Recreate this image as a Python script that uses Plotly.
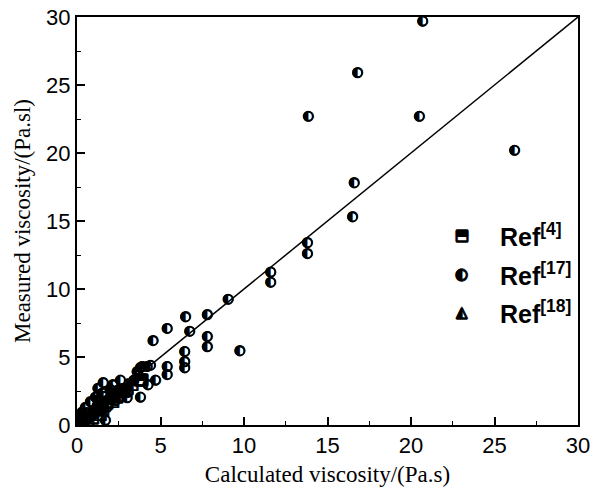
import plotly.graph_objects as go

# Ref[4] (half-filled squares)
ref4_x = [0.35, 0.65, 0.95, 1.4, 1.55, 1.8, 2.15, 2.4, 2.75, 3.0, 3.3, 3.8, 3.9]
ref4_y = [0.15, 0.25, 0.5, 0.75, 1.1, 1.6, 1.7, 2.05, 2.45, 2.6, 2.95, 3.3, 3.3]

# Ref[17] (half-filled circles)
ref17_x = [20.7, 16.8, 13.85, 20.5, 26.2, 16.6, 16.5, 13.8, 13.8, 11.6, 11.6, 9.05,
           7.8, 6.5, 6.75, 5.4, 4.55, 7.8, 7.8, 9.75, 6.45, 6.45, 6.45, 5.4, 5.4,
           4.2, 3.8, 4.7, 3.8, 1.57, 2.6, 2.15, 1.7, 3.9, 4.4, 1.25, 1.5, 1.1, 0.8,
           0.5, 0.3, 0.1, 2.15, 2.6, 3.0, 3.05, 4.25, 1.8, 2.3, 1.2, 0.6,
           1.3, 1.6, 2.0, 1.9, 2.5, 2.9, 3.4, 3.6]
ref17_y = [29.7, 25.9, 22.7, 22.7, 20.2, 17.8, 15.3, 13.4, 12.6, 11.25, 10.5, 9.25,
           8.1, 7.95, 6.9, 7.1, 6.2, 6.5, 5.75, 5.45, 5.4, 4.65, 4.2, 4.3, 3.7,
           4.3, 4.2, 3.3, 2.05, 3.1, 3.3, 2.95, 0.35, 4.3, 4.4, 2.7, 2.35, 2.05, 1.7,
           1.3, 0.95, 0.6, 2.35, 2.05, 2.0, 2.4, 2.95, 1.3, 1.8, 1.4, 0.9,
           1.9, 2.1, 2.6, 1.9, 2.6, 2.5, 3.3, 3.9]

# Ref[18] (half-filled triangles)
ref18_x = [0.1, 0.2, 0.3, 0.4, 0.5, 0.6, 0.8, 1.0, 1.2, 1.4]
ref18_y = [0.15, 0.3, 0.35, 0.5, 0.6, 0.75, 0.85, 1.1, 1.3, 1.45]

# Parity line
line_x = [0, 30]
line_y = [0, 30]

tick_vals = [0, 5, 10, 15, 20, 25, 30]

series_names = ["Ref<sup>[4]</sup>", "Ref<sup>[17]</sup>", "Ref<sup>[18]</sup>"]
series_glyphs = ["\u2B12", "\u25D0", "\u25ED"]

GLYPH_FONT = "DejaVu Sans"
THICK = "0.8px 0 0 black, -0.8px 0 0 black, 0 0.8px 0 black, 0 -0.8px 0 black"

fig = go.Figure()
fig.add_trace(go.Scatter(x=line_x, y=line_y, mode="lines",
                         line=dict(color="black", width=1.5), showlegend=False,
                         hoverinfo="skip"))
# Ref[4]
fig.add_trace(go.Scatter(
    x=ref4_x, y=ref4_y, mode="text", text=[series_glyphs[0]] * len(ref4_x),
    name=series_names[0], textposition="middle center",
    textfont=dict(family=GLYPH_FONT, size=15, color="black", shadow=THICK),
    showlegend=False))
# Ref[17]: thick black ring + left-half-black circle glyph inside
fig.add_trace(go.Scatter(
    x=ref17_x, y=ref17_y, mode="markers", name=series_names[1],
    marker=dict(symbol="circle-open", size=9, color="black", line=dict(width=2, color="black")),
    showlegend=False, hoverinfo="skip"))
fig.add_trace(go.Scatter(
    x=ref17_x, y=ref17_y, mode="text", text=[series_glyphs[1]] * len(ref17_x),
    name=series_names[1], textposition="middle center",
    textfont=dict(family=GLYPH_FONT, size=14, color="black"), showlegend=False))
# Ref[18]
fig.add_trace(go.Scatter(
    x=ref18_x, y=ref18_y, mode="text", text=[series_glyphs[2]] * len(ref18_x),
    name=series_names[2], textposition="middle center",
    textfont=dict(family=GLYPH_FONT, size=15, color="black", shadow=THICK),
    showlegend=False))

axis_common = dict(
    range=[0, 30], tickvals=tick_vals, showgrid=False, zeroline=False,
    showline=True, linecolor="black", linewidth=2, mirror=True,
    ticks="inside", ticklen=8, tickwidth=1.5, tickcolor="black",
    minor=dict(ticks="inside", ticklen=4, tickwidth=1.2, tickcolor="black", dtick=2.5),
    tickfont=dict(family="Liberation Sans, Arial", size=22, color="black"),
    automargin=False, ticklabeloverflow="allow",
)

fig.update_xaxes(**axis_common,
                 title=dict(text="Calculated viscosity/(Pa.s)", standoff=8,
                            font=dict(family="Liberation Serif, Times New Roman", size=23, color="black")))
fig.update_yaxes(**axis_common,
                 title=dict(text="Measured viscosity/(Pa.sl)", standoff=9,
                            font=dict(family="Liberation Serif, Times New Roman", size=23, color="black")))

# Legend (built as annotations so the half-filled symbols match)
legend_y = [0.466, 0.371, 0.277]
for g, nm, yy in zip(series_glyphs, series_names, legend_y):
    fig.add_annotation(x=0.768, y=yy, xref="paper", yref="paper", text=g,
                       showarrow=False, xanchor="center", yanchor="middle",
                       font=dict(family=GLYPH_FONT, size=15, color="black", shadow=THICK))
    fig.add_annotation(x=0.84, y=yy, xref="paper", yref="paper", text="<b>" + nm + "</b>",
                       showarrow=False, xanchor="left", yanchor="middle",
                       font=dict(family="Liberation Sans, Arial", size=25, color="black"))

fig.update_layout(
    width=590, height=495,
    margin=dict(l=77, r=12, t=17, b=70),
    plot_bgcolor="white", paper_bgcolor="white",
    showlegend=False,
    font=dict(family="Liberation Sans, Arial", color="black"),
)

fig.write_html("out.html", config={"displayModeBar": False},
               post_script="document.body.style.margin='0';document.body.style.overflow='hidden';")
